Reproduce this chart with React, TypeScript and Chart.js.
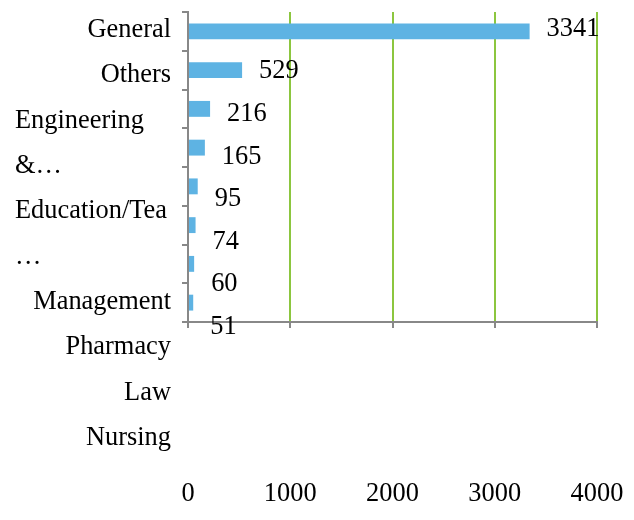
import React, { useEffect, useRef } from "react";
import { Chart, registerables } from "chart.js";
Chart.register(...registerables);

const categories: (string | string[])[] = [
  "General",
  "Others",
  ["Engineering", "&…"],
  ["Education/Tea", "…"],
  "Management",
  "Pharmacy",
  "Law",
  "Nursing",
];
const values = [3341, 529, 216, 165, 95, 74, 60, 51];
const xMin = 0;
const xMax = 4000;
const xStep = 1000;

const FONT_SIZE = 26.4;
const FONT = `${FONT_SIZE}px "Liberation Serif", "Times New Roman", serif`;
const BLUE = "#5EB3E3";
const GREEN = "#8CC63F";
const GRAY = "#888888";

const textPlugin = {
  id: "excelText",
  afterDraw(chart: any) {
    const { ctx } = chart;
    const y = chart.scales.y;
    const x = chart.scales.x;
    const step = (y.bottom - y.top) / categories.length;
    ctx.save();
    ctx.font = FONT;
    ctx.fillStyle = "#000";
    ctx.textBaseline = "alphabetic";
    let k = 0;
    categories.forEach((c) => {
      const lines = Array.isArray(c) ? c : [c];
      lines.forEach((line) => {
        const yy = y.top + step * (0.645 + 1.17 * k);
        if (Array.isArray(c)) {
          ctx.textAlign = "left";
          ctx.fillText(line, 15, yy);
        } else {
          ctx.textAlign = "right";
          ctx.fillText(line, x.left - 17, yy);
        }
        k++;
      });
    });
    const meta = chart.getDatasetMeta(0);
    meta.data.forEach((bar: any, i: number) => {
      const yy = y.top + step * (0.61 + 1.1 * i);
      ctx.textAlign = "left";
      ctx.fillText(String(values[i]), bar.x + 17, yy);
    });
    ctx.restore();
  },
};

export default function App() {
  const ref = useRef<HTMLCanvasElement | null>(null);
  useEffect(() => {
    if (!ref.current) return;
    const chart = new Chart(ref.current, {
      type: "bar",
      data: {
        labels: categories.map((c) => (Array.isArray(c) ? c.join(" ") : c)),
        datasets: [
          {
            data: values,
            backgroundColor: BLUE,
            borderWidth: 0,
            barPercentage: 0.41,
            categoryPercentage: 1,
          },
        ],
      },
      options: {
        indexAxis: "y",
        responsive: false,
        animation: false,
        layout: { padding: { left: 0, right: 37, top: 12, bottom: 0 } },
        plugins: { legend: { display: false }, tooltip: { enabled: false } },
        scales: {
          x: {
            type: "linear",
            min: xMin,
            max: xMax,
            ticks: {
              stepSize: xStep,
              color: "#000",
              padding: 150,
              maxRotation: 0,
              font: { family: '"Liberation Serif"', size: FONT_SIZE },
              callback: (v: any) => String(v),
            },
            grid: {
              color: (c: any) => (c.tick && c.tick.value === 0 ? "rgba(0,0,0,0)" : GREEN),
              lineWidth: 2,
              tickColor: GRAY,
              tickLength: 6,
            },
            border: { display: true, color: GRAY, width: 2 },
            afterFit: (s: any) => {
              s.height = 198;
              s.paddingLeft = 0;
              s.paddingRight = 0;
            },
          },
          y: {
            type: "category",
            ticks: { display: false },
            grid: {
              drawOnChartArea: false,
              drawTicks: true,
              tickLength: 6,
              tickColor: GRAY,
              lineWidth: 2,
              offset: true,
            },
            border: { display: true, color: GRAY, width: 2 },
            afterFit: (s: any) => {
              s.width = 188;
            },
          },
        },
      },
      plugins: [textPlugin],
    });
    return () => chart.destroy();
  }, []);
  return (
    <div style={{ position: "fixed", left: 0, top: 0, width: 634, height: 520, background: "#fff" }}>
      <canvas ref={ref} width={634} height={520} style={{ display: "block" }} />
    </div>
  );
}
